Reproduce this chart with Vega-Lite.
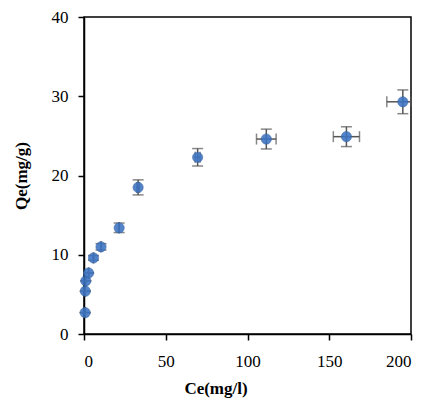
{
  "$schema": "https://vega.github.io/schema/vega-lite/v6.json",
  "width": 327,
  "height": 317,
  "autosize": {"type": "none"},
  "padding": {"left": 84, "top": 17, "right": 16, "bottom": 71},
  "background": "white",
  "config": {
    "view": {"stroke": "black", "strokeWidth": 1.5},
    "axis": {
      "grid": false,
      "domainColor": "black",
      "domainWidth": 1.5,
      "tickColor": "black",
      "tickWidth": 1.5,
      "tickSize": 6,
      "labelFont": "Liberation Serif",
      "labelFontSize": 17,
      "labelColor": "black",
      "titleFont": "Liberation Serif",
      "titleFontSize": 17,
      "titleFontWeight": "bold",
      "titleColor": "black"
    }
  },
  "data": {
    "values": [
      {"ce": 0.7, "qe": 2.7, "celo": 0.7, "cehi": 0.7, "qelo": 2.7, "qehi": 2.7},
      {"ce": 0.8, "qe": 5.4, "celo": 0.8, "cehi": 0.8, "qelo": 5.4, "qehi": 5.4},
      {"ce": 1.1, "qe": 6.7, "celo": 1.1, "cehi": 1.1, "qelo": 6.7, "qehi": 6.7},
      {"ce": 2.8, "qe": 7.7, "celo": 2.8, "cehi": 2.8, "qelo": 7.7, "qehi": 7.7},
      {"ce": 5.8, "qe": 9.6, "celo": 5.8, "cehi": 5.8, "qelo": 9.3, "qehi": 9.9},
      {"ce": 10.4, "qe": 11.0, "celo": 10.4, "cehi": 10.4, "qelo": 10.6, "qehi": 11.4},
      {"ce": 21.5, "qe": 13.4, "celo": 21.5, "cehi": 21.5, "qelo": 12.8, "qehi": 14.0},
      {"ce": 33.1, "qe": 18.5, "celo": 32.3, "cehi": 33.9, "qelo": 17.55, "qehi": 19.45},
      {"ce": 69.5, "qe": 22.3, "celo": 68.0, "cehi": 71.0, "qelo": 21.2, "qehi": 23.4},
      {"ce": 111.5, "qe": 24.6, "celo": 105.5, "cehi": 117.5, "qelo": 23.35, "qehi": 25.85},
      {"ce": 160.5, "qe": 24.9, "celo": 152.5, "cehi": 168.5, "qelo": 23.65, "qehi": 26.15},
      {"ce": 195, "qe": 29.3, "celo": 185.2, "cehi": 200, "qelo": 27.8, "qehi": 30.8}
    ]
  },
  "encoding": {
    "x": {
      "field": "ce", "type": "quantitative",
      "scale": {"domain": [0, 200]},
      "axis": {"values": [0, 50, 100, 150, 200], "title": "Ce(mg/l)", "labelPadding": 13, "titleX": 131.5, "titleY": 59, "titleBaseline": "alphabetic", "titleAnchor": null}
    },
    "y": {
      "field": "qe", "type": "quantitative",
      "scale": {"domain": [0, 40]},
      "axis": {"values": [0, 10, 20, 30, 40], "title": "Qe(mg/g)", "labelPadding": 10, "titleX": -63, "titleBaseline": "middle"}
    }
  },
  "layer": [
    {
      "mark": {"type": "errorbar", "ticks": {"size": 11, "color": "#555555", "thickness": 1.5}, "rule": {"color": "#555555", "strokeWidth": 1.5}},
      "encoding": {
        "x": {"field": "celo", "type": "quantitative"},
        "x2": {"field": "cehi"},
        "y": {"field": "qe", "type": "quantitative"}
      }
    },
    {
      "mark": {"type": "errorbar", "ticks": {"size": 11, "color": "#555555", "thickness": 1.5}, "rule": {"color": "#555555", "strokeWidth": 1.5}},
      "encoding": {
        "y": {"field": "qelo", "type": "quantitative"},
        "y2": {"field": "qehi"},
        "x": {"field": "ce", "type": "quantitative"}
      }
    },
    {
      "mark": {"type": "circle", "size": 105, "color": "#3C73C2", "opacity": 0.88, "stroke": "#2F5E9E", "strokeWidth": 0.6}
    }
  ]
}
